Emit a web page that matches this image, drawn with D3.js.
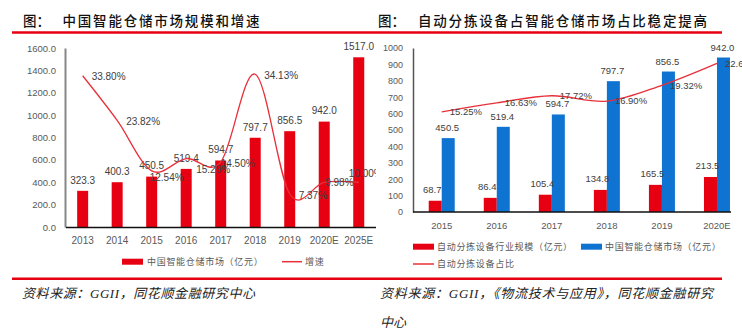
<!DOCTYPE html>
<html>
<head>
<meta charset="utf-8">
<script src="https://cdn.jsdelivr.net/npm/d3@7"></script>
<style>
  body { margin: 0; background: #fff; }
  svg { display: block; }
  .tick text { fill: #595959; font-family: "Liberation Sans", Arial, sans-serif; }
</style>
</head>
<body>
<div class="chart"></div>
<script>
// left chart: market size (亿元) and growth (%)
const yearsL = ['2013', '2014', '2015', '2016', '2017', '2018', '2019', '2020E', '2025E'];
const marketL = [323.3, 400.3, 450.5, 519.4, 594.7, 797.7, 856.5, 942.0, 1517.0];
const growthL = [33.80, 23.82, 12.54, 15.29, 14.50, 34.13, 7.37, 9.98, 10.00];
const growthTicksL = d3.range(0, 1601, 200);
// hand-moved labels in the original, [dx, dy]
const growthNudge = [[9, 1], [9, 1], [-2, 7], [10, 11], [0, 1], [9, 1], [9, 1], [1, 0], [-10, -9]];

// right chart: sorting equipment vs. whole market
const yearsR = ['2015', '2016', '2017', '2018', '2019', '2020E'];
const sortingR = [68.7, 86.4, 105.4, 134.8, 165.5, 213.5];
const marketR = [450.5, 519.4, 594.7, 797.7, 856.5, 942.0];
const shareR = [15.25, 16.63, 17.72, 16.90, 19.32, 22.66];
const ticksR = d3.range(0, 1001, 100);

const red = '#e60012';
const lineRed = '#e8303a';
const blue = '#0f73d2';
const cjk = '"Noto Sans CJK SC", "Noto Sans", sans-serif';
const num = '"Liberation Sans", Arial, sans-serif';

let width = 742;
let height = 331;

let svg = d3.select('.chart')
  .append('svg')
  .attr('width', width)
  .attr('height', height);

// header + footer rules
svg.append('line').attr('x1', 12).attr('x2', 722).attr('y1', 32.5).attr('y2', 32.5)
  .attr('stroke', red).attr('stroke-width', 2.5);
svg.append('line').attr('x1', 12).attr('x2', 722).attr('y1', 278.7).attr('y2', 278.7)
  .attr('stroke', red).attr('stroke-width', 2.5);

function title(x, label, x2, len, txt) {
  svg.append('text').attr('x', x).attr('y', 25.5).text(label)
    .style('font-family', cjk).style('font-size', '13.5px').style('font-weight', 500).attr('fill', '#111');
  svg.append('text').attr('x', x2).attr('y', 25.5).text(txt)
    .attr('textLength', len).attr('lengthAdjust', 'spacing')
    .style('font-family', cjk).style('font-size', '13.5px').style('font-weight', 500).attr('fill', '#111');
}
title(23, '图：', 62.5, 197, '中国智能仓储市场规模和增速');
title(378, '图：', 418, 289, '自动分拣设备占智能仓储市场占比稳定提高');

function source(x, y, len, txt) {
  let t = svg.append('text').attr('x', x).attr('y', y).text(txt)
    .style('font-family', '"Liberation Serif", "Noto Sans CJK SC", serif')
    .style('font-size', '13px').style('font-style', 'italic').attr('fill', '#222');
  if (len) t.attr('textLength', len).attr('lengthAdjust', 'spacing');
}
source(22, 298, 233, '资料来源：GGII，同花顺金融研究中心');
source(380, 298, 333, '资料来源：GGII，《物流技术与应用》，同花顺金融研究');
source(380, 326.5, null, '中心');

// ---------- left chart ----------
svg.append('clipPath').attr('id', 'clipL')
  .append('rect').attr('x', 0).attr('y', 35).attr('width', 376).attr('height', 240);

let gL = svg.append('g').attr('clip-path', 'url(#clipL)');

let xL = d3.scaleBand().domain(yearsL).range([65.4, 376]);
let yL = d3.scaleLinear().domain([0, 1600]).range([227, 48]);
let y2L = d3.scaleLinear().domain([0, 40]).range([227, 48]);

let yAxisL = gL.append('g').attr('transform', 'translate(65,0)')
  .call(d3.axisLeft(yL).tickValues(growthTicksL).tickFormat(d3.format('.1f')).tickSize(0).tickPadding(9));
yAxisL.select('.domain').attr('stroke', '#868686').attr('stroke-width', 2);
yAxisL.selectAll('text').style('font-size', '9.5px');

let barWL = 11;
gL.selectAll('rect.bar')
  .data(marketL)
  .enter()
  .append('rect')
  .attr('class', 'bar')
  .attr('x', (d, i) => xL(yearsL[i]) + xL.bandwidth() / 2 - barWL / 2)
  .attr('width', barWL)
  .attr('y', d => yL(d))
  .attr('height', d => yL(0) - yL(d))
  .attr('fill', red);

let xAxisL = gL.append('g').attr('transform', 'translate(0,227)')
  .call(d3.axisBottom(xL).tickSize(0).tickSizeOuter(0).tickPadding(9.5));
xAxisL.select('.domain').attr('stroke', '#111').attr('stroke-width', 1.5);
xAxisL.selectAll('text').style('font-size', '10px');

gL.selectAll('text.barval')
  .data(marketL)
  .enter()
  .append('text')
  .attr('class', 'barval')
  .attr('x', (d, i) => xL(yearsL[i]) + xL.bandwidth() / 2)
  .attr('y', d => yL(d) - 7.2)
  .attr('text-anchor', 'middle')
  .style('font-family', num).style('font-size', '10px').attr('fill', '#404040')
  .text(d => d.toFixed(1));

let lineL = d3.line()
  .x((d, i) => xL(yearsL[i]) + xL.bandwidth() / 2)
  .y(d => y2L(d))
  .curve(d3.curveCatmullRom.alpha(0));

gL.append('path')
  .datum(growthL)
  .attr('d', lineL)
  .attr('fill', 'none')
  .attr('stroke', lineRed)
  .attr('stroke-width', 1.3);

gL.selectAll('text.rate')
  .data(growthL)
  .enter()
  .append('text')
  .attr('class', 'rate')
  .attr('x', (d, i) => xL(yearsL[i]) + xL.bandwidth() / 2 + growthNudge[i][0])
  .attr('y', (d, i) => y2L(d) + growthNudge[i][1] + 3.5)
  .style('font-family', num).style('font-size', '10px').attr('fill', '#404040')
  .text(d => d.toFixed(2) + '%');

// legend left
svg.append('rect').attr('x', 122).attr('y', 258.7).attr('width', 21).attr('height', 6).attr('fill', red);
svg.append('text').attr('x', 147).attr('y', 265).text('中国智能仓储市场（亿元）')
  .style('font-family', cjk).style('font-size', '9px').style('letter-spacing', '0.7px').attr('fill', '#595959');
svg.append('line').attr('x1', 282).attr('x2', 302).attr('y1', 261.7).attr('y2', 261.7)
  .attr('stroke', lineRed).attr('stroke-width', 1.5);
svg.append('text').attr('x', 305).attr('y', 265).text('增速')
  .style('font-family', cjk).style('font-size', '9px').style('letter-spacing', '0.7px').attr('fill', '#595959');

// ---------- right chart ----------
let gR = svg.append('g');

let xR = d3.scaleBand().domain(yearsR).range([414.2, 744.5]);
let yR = d3.scaleLinear().domain([0, 1000]).range([212, 48]);
let y2R = d3.scaleLinear().domain([0, 25]).range([212, 48]);

let yAxisR = gR.append('g').attr('transform', 'translate(413,0)')
  .call(d3.axisLeft(yR).tickValues(ticksR).tickFormat(d3.format('d')).tickSize(0).tickPadding(10));
yAxisR.select('.domain').attr('stroke', '#555').attr('stroke-width', 1.5);
yAxisR.selectAll('text').style('font-size', '9px');

let barWR = 13;
let cx = d => xR(d) + xR.bandwidth() / 2;

gR.selectAll('rect.sort')
  .data(sortingR)
  .enter()
  .append('rect')
  .attr('class', 'sort')
  .attr('x', (d, i) => cx(yearsR[i]) - barWR)
  .attr('width', barWR)
  .attr('y', d => yR(d))
  .attr('height', d => yR(0) - yR(d))
  .attr('fill', red);

gR.selectAll('rect.mkt')
  .data(marketR)
  .enter()
  .append('rect')
  .attr('class', 'mkt')
  .attr('x', (d, i) => cx(yearsR[i]))
  .attr('width', barWR)
  .attr('y', d => yR(d))
  .attr('height', d => yR(0) - yR(d))
  .attr('fill', blue);

let xAxisR = gR.append('g').attr('transform', 'translate(0,212)')
  .call(d3.axisBottom(xR).tickSize(0).tickSizeOuter(0).tickPadding(10.5));
xAxisR.select('.domain').remove();
xAxisR.selectAll('text').style('font-size', '9.5px');
gR.append('line').attr('x1', 413).attr('x2', 731).attr('y1', 212).attr('y2', 212)
  .attr('stroke', '#111').attr('stroke-width', 1.5);

gR.selectAll('text.sval')
  .data(sortingR)
  .enter()
  .append('text')
  .attr('class', 'sval')
  .attr('x', (d, i) => cx(yearsR[i]) - barWR / 2 - 3)
  .attr('y', d => yR(d) - 7.5)
  .attr('text-anchor', 'middle')
  .style('font-family', num).style('font-size', '9.5px').attr('fill', '#404040')
  .text(d => d.toFixed(1));

gR.selectAll('text.mval')
  .data(marketR)
  .enter()
  .append('text')
  .attr('class', 'mval')
  .attr('x', (d, i) => cx(yearsR[i]) + barWR / 2 - 1)
  .attr('y', d => yR(d) - 7)
  .attr('text-anchor', 'middle')
  .style('font-family', num).style('font-size', '9.5px').attr('fill', '#404040')
  .text(d => d.toFixed(1));

let lineR = d3.line()
  .x((d, i) => cx(yearsR[i]))
  .y(d => y2R(d))
  .curve(d3.curveCatmullRom.alpha(0));

gR.append('path')
  .datum(shareR)
  .attr('d', lineR)
  .attr('fill', 'none')
  .attr('stroke', lineRed)
  .attr('stroke-width', 1.3);

gR.selectAll('text.share')
  .data(shareR)
  .enter()
  .append('text')
  .attr('class', 'share')
  .attr('x', (d, i) => cx(yearsR[i]) + 8)
  .attr('y', d => y2R(d) + 3.3)
  .style('font-family', num).style('font-size', '9.5px').attr('fill', '#404040')
  .text(d => d.toFixed(2) + '%');

// legend right
svg.append('rect').attr('x', 413).attr('y', 243.7).attr('width', 21).attr('height', 6).attr('fill', red);
svg.append('text').attr('x', 437).attr('y', 250).text('自动分拣设备行业规模（亿元）')
  .style('font-family', cjk).style('font-size', '9px').style('letter-spacing', '0.7px').attr('fill', '#595959');
svg.append('rect').attr('x', 581).attr('y', 243.7).attr('width', 21).attr('height', 6).attr('fill', blue);
svg.append('text').attr('x', 605).attr('y', 250).text('中国智能仓储市场（亿元）')
  .style('font-family', cjk).style('font-size', '9px').style('letter-spacing', '0.7px').attr('fill', '#595959');
svg.append('line').attr('x1', 413).attr('x2', 434).attr('y1', 264).attr('y2', 264)
  .attr('stroke', lineRed).attr('stroke-width', 1.5);
svg.append('text').attr('x', 437).attr('y', 267.3).text('自动分拣设备占比')
  .style('font-family', cjk).style('font-size', '9px').style('letter-spacing', '0.7px').attr('fill', '#595959');
</script>
</body>
</html>
